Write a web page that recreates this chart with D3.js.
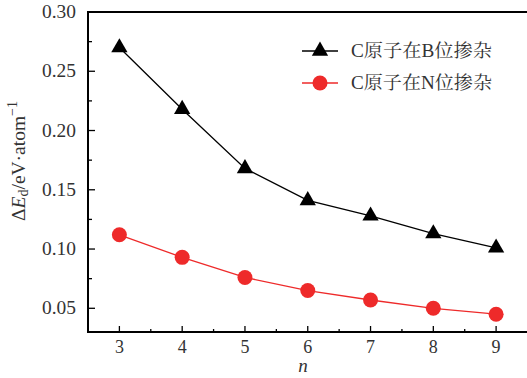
<!DOCTYPE html>
<html><head><meta charset="utf-8">
<script src="https://cdn.jsdelivr.net/npm/d3@7"></script>
<style>body{margin:0;background:#fff}svg{display:block}</style>
</head><body>
<svg id="c" width="527" height="378"></svg>
<script>
const nValues = [3, 4, 5, 6, 7, 8, 9];
const seriesB = [0.270, 0.218, 0.168, 0.141, 0.128, 0.113, 0.101];
const seriesN = [0.112, 0.093, 0.076, 0.065, 0.057, 0.050, 0.045];
const seriesNames = ["C原子在B位掺杂", "C原子在N位掺杂"];
const yTickValues = [0.05, 0.10, 0.15, 0.20, 0.25, 0.30];
const xTickValues = [3, 4, 5, 6, 7, 8, 9];

const svg = d3.select("#c");
const L = 88, T = 12, B = 332, R = 527.5;
const x = d3.scaleLinear().domain([2.5, 9.5]).range([L, R]);
const y = d3.scaleLinear().domain([0.03, 0.30]).range([B, T]);
const serif = "Liberation Serif";
const textCol = "#333";
const red = "#ee2a2a";

const g = svg.append("g");
const xMinor = d3.range(3.5, 9.5, 1);
g.selectAll(".xm").data(xMinor).enter().append("line")
  .attr("x1", d => x(d)).attr("x2", d => x(d)).attr("y1", B).attr("y2", B - 3)
  .attr("stroke", "#000").attr("stroke-width", 1.3);
g.selectAll(".xM").data(xTickValues).enter().append("line")
  .attr("x1", d => x(d)).attr("x2", d => x(d)).attr("y1", B).attr("y2", B - 6)
  .attr("stroke", "#000").attr("stroke-width", 1.3);
const yMinor = [0.075, 0.125, 0.175, 0.225, 0.275];
g.selectAll(".ym").data(yMinor).enter().append("line")
  .attr("x1", L).attr("x2", L + 4).attr("y1", d => y(d)).attr("y2", d => y(d))
  .attr("stroke", "#000").attr("stroke-width", 1.3);
g.selectAll(".yM").data(yTickValues).enter().append("line")
  .attr("x1", L).attr("x2", L + 7).attr("y1", d => y(d)).attr("y2", d => y(d))
  .attr("stroke", "#000").attr("stroke-width", 1.3);

g.selectAll(".xl").data(xTickValues).enter().append("text")
  .attr("x", d => x(d)).attr("y", 353).attr("text-anchor", "middle")
  .style("font-family", serif).attr("font-size", 18).attr("fill", textCol)
  .text(d => d);
g.selectAll(".yl").data(yTickValues).enter().append("text")
  .attr("x", 76).attr("y", d => y(d) + 6).attr("text-anchor", "end")
  .style("font-family", serif).attr("font-size", 18).attr("fill", textCol)
  .attr("textLength", 34).attr("lengthAdjust", "spacingAndGlyphs")
  .text(d => d3.format(".2f")(d));

svg.append("path").attr("d", `M${R},${T}H${L}V${B}H${R}`)
  .attr("fill", "none").attr("stroke", "#000").attr("stroke-width", 2);

svg.append("text").attr("x", 303).attr("y", 372).attr("text-anchor", "middle")
  .style("font-family", serif).attr("font-style", "italic").attr("font-size", 19).attr("fill", textCol).text("n");
const yt = svg.append("text").attr("transform", "translate(25,161) rotate(-90)")
  .attr("text-anchor", "middle").style("font-family", serif).attr("font-size", 19.5).attr("fill", textCol);
yt.append("tspan").text("Δ");
yt.append("tspan").attr("font-style", "italic").text("E");
yt.append("tspan").attr("font-size", 14).attr("dy", 3).text("d");
yt.append("tspan").attr("dy", -3).text("/eV·atom");
yt.append("tspan").attr("font-size", 14).attr("dy", -8).text("−1");

const lineGen = d3.line().x((d, i) => x(nValues[i])).y(d => y(d));
svg.append("path").datum(seriesB).attr("d", lineGen).attr("fill", "none").attr("stroke", "#000").attr("stroke-width", 1.3);
svg.append("path").datum(seriesN).attr("d", lineGen).attr("fill", "none").attr("stroke", red).attr("stroke-width", 1.3);

const tri = d3.symbol().type(d3.symbolTriangle).size(115);
svg.selectAll(".tb").data(seriesB).enter().append("path")
  .attr("d", tri).attr("transform", (d, i) => `translate(${x(nValues[i])},${y(d)})`).attr("fill", "#000");
svg.selectAll(".cn").data(seriesN).enter().append("circle")
  .attr("cx", (d, i) => x(nValues[i])).attr("cy", d => y(d)).attr("r", 7.5).attr("fill", red);

const leg = svg.append("g");
const rows = [{y: 51, col: "#000", m: "tri"}, {y: 83, col: red, m: "circ"}];
rows.forEach((r, i) => {
  leg.append("line").attr("x1", 302).attr("x2", 338).attr("y1", r.y).attr("y2", r.y).attr("stroke", r.col).attr("stroke-width", 1.3);
  if (r.m === "tri") leg.append("path").attr("d", tri).attr("transform", `translate(320,${r.y})`).attr("fill", "#000");
  else leg.append("circle").attr("cx", 320).attr("cy", r.y).attr("r", 7.5).attr("fill", r.col);
  leg.append("text").attr("x", 351).attr("y", r.y + 6).style("font-family", "Liberation Serif, Noto Serif CJK SC, Noto Sans CJK SC")
    .attr("font-size", 18).attr("fill", textCol)
    .attr("textLength", 141).attr("lengthAdjust", "spacingAndGlyphs")
    .text(seriesNames[i]);
});
</script>
</body></html>
